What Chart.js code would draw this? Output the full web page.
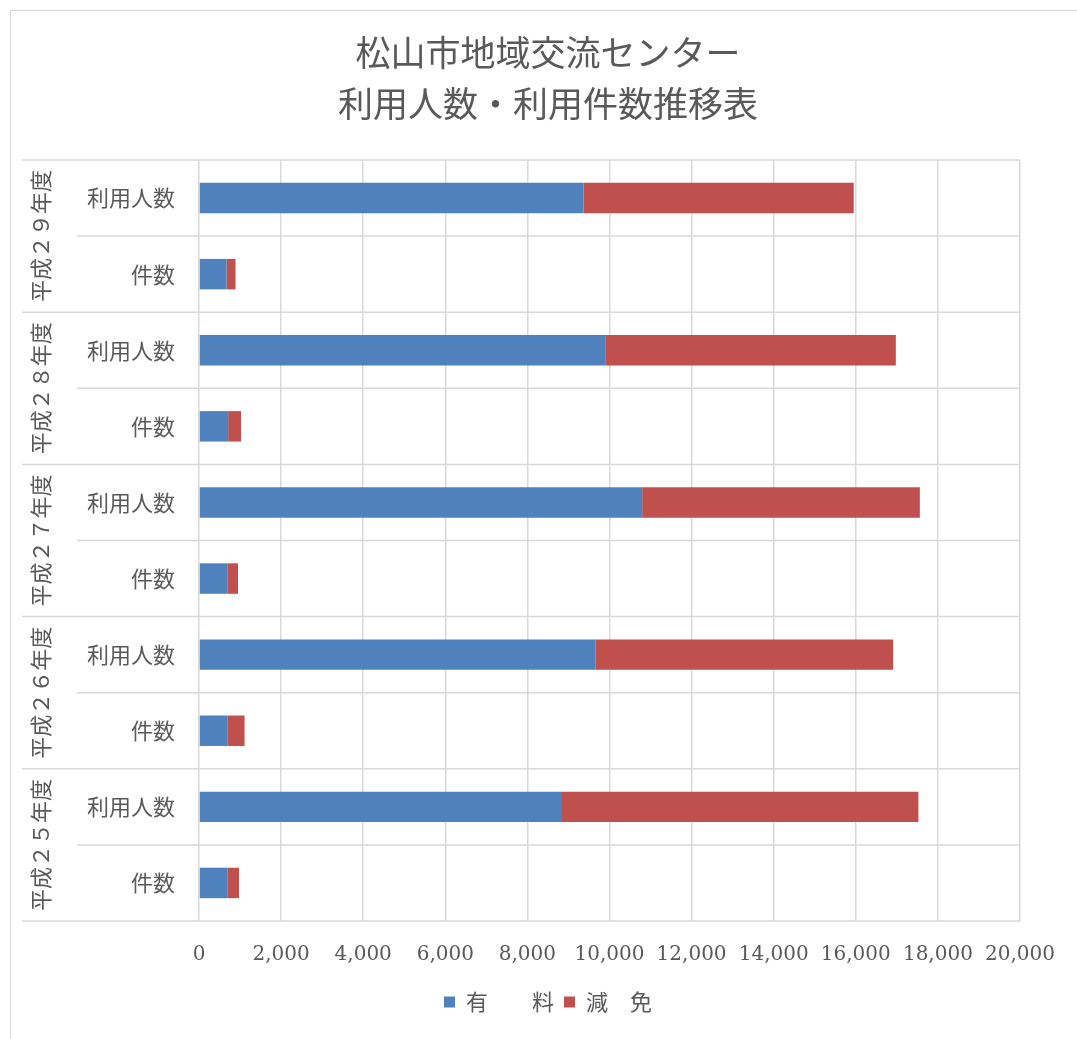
<!DOCTYPE html>
<html>
<head>
<meta charset="utf-8">
<script src="https://cdn.jsdelivr.net/npm/chart.js@4"></script>
<style>
  html, body { margin: 0; padding: 0; background: #ffffff; }
  #frame { position: absolute; left: 10px; top: 10px; width: 1100px; height: 1100px; border: 1px solid #d9d9d9; box-sizing: border-box; }
  #wrap { position: absolute; left: 0; top: 0; width: 1077px; height: 1039px; }
</style>
</head>
<body>
<div id="frame"></div>
<div id="wrap"><canvas id="c" width="1077" height="1039"></canvas></div>
<script>
// ---- data ----
const years = ['平成２９年度', '平成２８年度', '平成２７年度', '平成２６年度', '平成２５年度'];
const items = ['利用人数', '件数'];
const paidPeople = [9370, 9910, 10795, 9655, 8820];
const freePeople = [6580, 7065, 6765, 7255, 8705];
const paidCount = [670, 710, 690, 700, 690];
const freeCount = [220, 315, 260, 410, 285];
const seriesNames = ['有　　料', '減　免'];
const xTicksMax = 20000;
const xTickStep = 2000;
const titleLines = ['松山市地域交流センター', '利用人数・利用件数推移表'];

// build category table
const labels = [];
const paid = [];
const free = [];
years.forEach((y, i) => {
  labels.push(items[0]); paid.push(paidPeople[i]); free.push(freePeople[i]);
  labels.push(items[1]); paid.push(paidCount[i]); free.push(freeCount[i]);
});

const GRAY = '#595959';
const GRID = '#d9d9d9';
const CJK = '"Noto Sans CJK JP", sans-serif';
const NUM = '"DejaVu Serif", "Noto Sans CJK JP", serif';

const groupPlugin = {
  id: 'groupPlugin',
  beforeDatasetsDraw(chart) {
    const ys = chart.scales.y;
    const area = chart.chartArea;
    const n = labels.length;
    const rowH = (area.bottom - area.top) / n;
    const ctx = chart.ctx;
    ctx.save();
    ctx.strokeStyle = GRID;
    ctx.lineWidth = 1.5;
    for (let i = 0; i <= n; i++) {
      const y = i < n ? ys.getPixelForValue(i) - rowH / 2 : ys.getPixelForValue(n - 1) + rowH / 2;
      const xStart = (i % 2 === 0) ? 22 : 77;
      ctx.beginPath();
      ctx.moveTo(xStart, y);
      ctx.lineTo(area.right, y);
      ctx.stroke();
    }
    ctx.restore();
  },
  afterDraw(chart) {
    const ys = chart.scales.y;
    const ctx = chart.ctx;
    ctx.save();
    ctx.fillStyle = GRAY;
    ctx.font = '22px ' + CJK;
    ctx.textAlign = 'center';
    ctx.textBaseline = 'middle';
    years.forEach((yr, g) => {
      const c = (ys.getPixelForValue(2 * g) + ys.getPixelForValue(2 * g + 1)) / 2;
      ctx.save();
      ctx.translate(41, c);
      ctx.rotate(-Math.PI / 2);
      ctx.fillText(yr, 0, 0);
      ctx.restore();
    });
    ctx.restore();
  }
};

new Chart(document.getElementById('c'), {
  type: 'bar',
  data: {
    labels: labels,
    datasets: [
      { label: seriesNames[0], data: paid, backgroundColor: '#4F81BD', borderWidth: 0 },
      { label: seriesNames[1], data: free, backgroundColor: '#C0504D', borderWidth: 0 }
    ]
  },
  plugins: [groupPlugin],
  options: {
    indexAxis: 'y',
    responsive: false,
    animation: false,
    devicePixelRatio: 1,
    layout: { padding: { left: 75, right: 56, top: 0, bottom: 16 } },
    datasets: { bar: { categoryPercentage: 1.0, barPercentage: 0.4 } },
    scales: {
      x: {
        stacked: true,
        min: 0,
        max: xTicksMax,
        ticks: {
          stepSize: xTickStep,
          color: GRAY,
          font: { family: NUM, size: 20 },
          padding: 22,
          callback: v => v.toLocaleString('en-US')
        },
        grid: { color: GRID, lineWidth: 1.5, drawTicks: false },
        border: { display: false },
        afterFit: s => { s.height = 60; }
      },
      y: {
        stacked: true,
        ticks: {
          color: GRAY,
          font: { family: CJK, size: 22 },
          padding: 24
        },
        grid: { display: false, drawTicks: false },
        border: { display: false },
        afterFit: s => { s.width = 124; }
      }
    },
    plugins: {
      title: {
        display: true,
        text: titleLines,
        color: GRAY,
        font: { family: CJK, size: 35, weight: 'normal', lineHeight: 1.457 },
        padding: { top: 27, bottom: 31 }
      },
      legend: {
        display: true,
        position: 'bottom',
        labels: {
          color: GRAY,
          font: { family: CJK, size: 22 },
          boxWidth: 11,
          boxHeight: 11,
          padding: 10
        }
      },
      tooltip: { enabled: false }
    }
  }
});
</script>
</body>
</html>
